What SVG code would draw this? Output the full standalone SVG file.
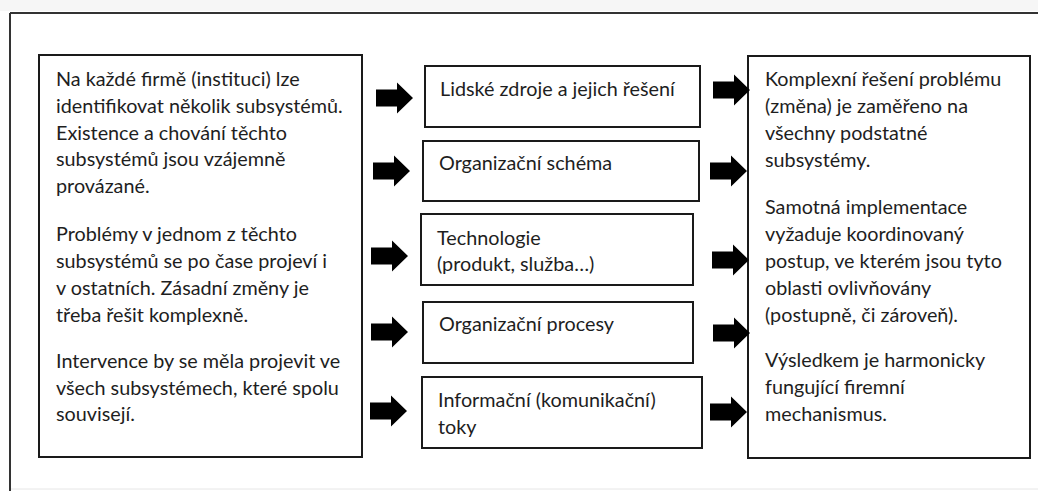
<svg xmlns="http://www.w3.org/2000/svg" width="1038" height="491" viewBox="0 0 1038 491">
<defs>
<style>
.box{fill:#fff;stroke:#1a1a1a;stroke-width:2}
.t{font-family:Lato,"Open Sans","Liberation Sans",sans-serif;font-size:19.8px;fill:#1e1e1e}
.arr{fill:#000}
.frame{stroke:#333;stroke-width:2;fill:none}
</style>
<path id="arrow" d="M0,-8.5 H21 V-15.5 L37,0 L21,15.5 V8.5 H0 Z"/>
</defs>
<rect x="0" y="0" width="1038" height="491" fill="#fff"/>
<rect x="0" y="0" width="1038" height="11" fill="#f6f6f6"/>
<g id="frame">
<line class="frame" x1="10" y1="13" x2="1038" y2="13"/>
<line class="frame" x1="10" y1="13" x2="10" y2="491"/>
<line x1="11" y1="489" x2="1038" y2="489" stroke="#e6e6e6" stroke-width="1"/>
</g>
<g id="left-box">
<rect class="box" x="39" y="55" width="323" height="402"/>
<text class="t" x="56" y="86">Na každé firmě (instituci) lze</text>
<text class="t" x="56" y="113">identifikovat několik subsystémů.</text>
<text class="t" x="56" y="140">Existence a chování těchto</text>
<text class="t" x="56" y="166">subsystémů jsou vzájemně</text>
<text class="t" x="56" y="193">provázané.</text>
<text class="t" x="56" y="241">Problémy v jednom z těchto</text>
<text class="t" x="56" y="268">subsystémů se po čase projeví i</text>
<text class="t" x="56" y="295">v ostatních. Zásadní změny je</text>
<text class="t" x="56" y="322">třeba řešit komplexně.</text>
<text class="t" x="56" y="368">Intervence by se měla projevit ve</text>
<text class="t" x="56" y="395">všech subsystémech, které spolu</text>
<text class="t" x="56" y="421">souvisejí.</text>
</g>
<g id="node-lidske-zdroje">
<rect class="box" x="425" y="66" width="275" height="61"/>
<text class="t" x="440" y="96">Lidské zdroje a jejich řešení</text>
</g>
<g id="node-organizacni-schema">
<rect class="box" x="423" y="141" width="276" height="60"/>
<text class="t" x="439" y="170">Organizační schéma</text>
</g>
<g id="node-technologie">
<rect class="box" x="421" y="214" width="272" height="71"/>
<text class="t" x="437" y="245">Technologie</text>
<text class="t" x="437" y="271">(produkt, služba…)</text>
</g>
<g id="node-organizacni-procesy">
<rect class="box" x="423" y="302" width="270" height="61"/>
<text class="t" x="439" y="331">Organizační procesy</text>
</g>
<g id="node-informacni-toky">
<rect class="box" x="422" y="377" width="280" height="71"/>
<text class="t" x="438" y="407">Informační (komunikační)</text>
<text class="t" x="438" y="434">toky</text>
</g>
<g id="right-box">
<rect class="box" x="748" y="56" width="282" height="402"/>
<text class="t" x="765" y="86">Komplexní řešení problému</text>
<text class="t" x="765" y="113">(změna) je zaměřeno na</text>
<text class="t" x="765" y="140">všechny podstatné</text>
<text class="t" x="765" y="167">subsystémy.</text>
<text class="t" x="765" y="214">Samotná implementace</text>
<text class="t" x="765" y="241">vyžaduje koordinovaný</text>
<text class="t" x="765" y="268">postup, ve kterém jsou tyto</text>
<text class="t" x="765" y="295">oblasti ovlivňovány</text>
<text class="t" x="765" y="322">(postupně, či zároveň).</text>
<text class="t" x="765" y="367">Výsledkem je harmonicky</text>
<text class="t" x="765" y="394">fungující firemní</text>
<text class="t" x="765" y="421">mechanismus.</text>
</g>
<g id="connectors" class="arr">
<use href="#arrow" x="376" y="98"/>
<use href="#arrow" x="373" y="171"/>
<use href="#arrow" x="371" y="256"/>
<use href="#arrow" x="371" y="332"/>
<use href="#arrow" x="370" y="411"/>
<use href="#arrow" x="713" y="90"/>
<use href="#arrow" x="710" y="171"/>
<use href="#arrow" x="712" y="260"/>
<use href="#arrow" x="713" y="333"/>
<use href="#arrow" x="710" y="412"/>
</g>
</svg>
